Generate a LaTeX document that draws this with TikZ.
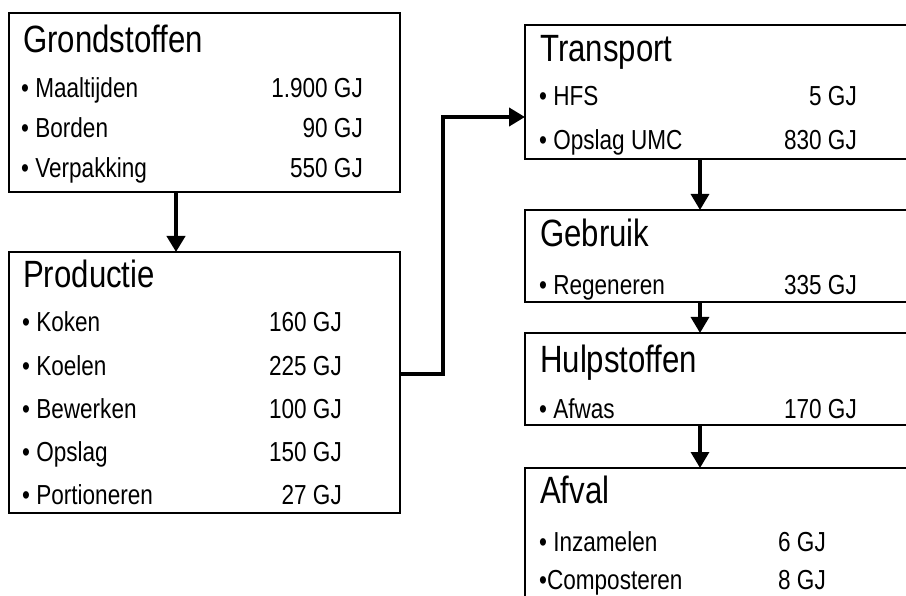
\documentclass[tikz,border=0pt]{standalone}
\usepackage{fontspec}
\setmainfont{Liberation Sans}[FakeStretch=0.82]
\usetikzlibrary{arrows.meta}
\tikzset{
  box/.style={draw=black, line width=1.8pt, rectangle, anchor=north west, inner sep=0pt, outer sep=0pt},
  ttl/.style={anchor=base west, inner sep=0pt, font=\fontsize{38}{40}\selectfont},
  itm/.style={anchor=base west, inner sep=0pt, font=\fontsize{27.5}{30}\selectfont},
  val/.style={anchor=base east, inner sep=0pt, font=\fontsize{27.5}{30}\selectfont},
  vall/.style={anchor=base west, inner sep=0pt, font=\fontsize{27.5}{30}\selectfont},
  arrthick/.style={line width=4pt, -{Triangle[length=16pt,width=18pt]}},
  arrthin/.style={line width=3.2pt, -{Triangle[length=16pt,width=18pt]}},
}
\begin{document}
\begin{tikzpicture}[x=1pt,y=-1pt]
\clip (0,0) rectangle (906,596);
\fill[white] (0,0) rectangle (906,596);
% boxes
\node[box, minimum width=391pt, minimum height=179pt] (grond) at (9,13) {};
\node[box, minimum width=391pt, minimum height=261pt] (prod) at (9,252) {};
\node[box, minimum width=405pt, minimum height=134pt] (trans) at (525,25) {};
\node[box, minimum width=405pt, minimum height=92pt] (gebr) at (525,210) {};
\node[box, minimum width=405pt, minimum height=92pt] (hulp) at (525,333) {};
\node[box, minimum width=405pt, minimum height=160pt] (afval) at (525,468) {};
% Grondstoffen
\node[ttl] (t1) at (23,53) {Grondstoffen};
\node[itm] (g1) at (21,98) {• Maaltijden};
\node[itm] (g2) at (21,138) {• Borden};
\node[itm] (g3) at (21,178) {• Verpakking};
\node[val] (gv1) at (363,98) {1.900 GJ};
\node[val] (gv2) at (363,138) {90 GJ};
\node[val] (gv3) at (363,178) {550 GJ};
% Productie
\node[ttl] (t2) at (23,288) {Productie};
\node[itm] (p1) at (22,332) {• Koken};
\node[itm] (p2) at (22,376) {• Koelen};
\node[itm] (p3) at (22,418) {• Bewerken};
\node[itm] (p4) at (22,461) {• Opslag};
\node[itm] (p5) at (22,504) {• Portioneren};
\node[val] (pv1) at (342,332) {160 GJ};
\node[val] (pv2) at (342,376) {225 GJ};
\node[val] (pv3) at (342,418) {100 GJ};
\node[val] (pv4) at (342,461) {150 GJ};
\node[val] (pv5) at (342,504) {27 GJ};
% Transport
\node[ttl] (t3) at (540,62) {Transport};
\node[itm] (tr1) at (539,106) {• HFS};
\node[itm] (tr2) at (539,150) {• Opslag UMC};
\node[val] (trv1) at (857,106) {5 GJ};
\node[val] (trv2) at (857,150) {830 GJ};
% Gebruik
\node[ttl] (t4) at (540,247) {Gebruik};
\node[itm] (ge1) at (539,295) {• Regeneren};
\node[val] (gev1) at (857,295) {335 GJ};
% Hulpstoffen
\node[ttl] (t5) at (540,373) {Hulpstoffen};
\node[itm] (hu1) at (539,418) {• Afwas};
\node[val] (huv1) at (857,418) {170 GJ};
% Afval
\node[ttl] (t6) at (540,503) {Afval};
\node[itm] (af1) at (539,551) {• Inzamelen};
\node[itm] (af2) at (539,589) {•Composteren};
\node[vall] (afv1) at (778,551) {6 GJ};
\node[vall] (afv2) at (778,589) {8 GJ};
% connectors
\coordinate (lx) at (176,0);
\coordinate (rx) at (700,0);
\coordinate (bend) at (443,0);
\coordinate (outy) at (0,374);
\coordinate (iny) at (0,117);
\draw[arrthick] (grond.south -| lx) -- (prod.north -| lx);
\draw[arrthick] (prod.east |- outy) -| (bend |- iny) -- (trans.west |- iny);
\draw[arrthin] (trans.south -| rx) -- (gebr.north -| rx);
\draw[arrthin] (gebr.south -| rx) -- (hulp.north -| rx);
\draw[arrthin] (hulp.south -| rx) -- (afval.north -| rx);
\end{tikzpicture}
\end{document}
